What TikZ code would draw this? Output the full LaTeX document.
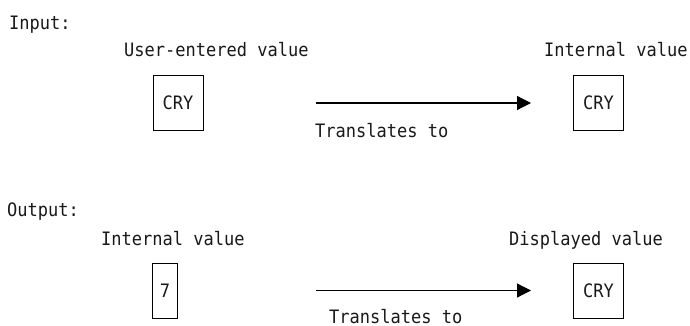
\documentclass[tikz,border=0pt]{standalone}
\usepackage{fontspec}
\setmonofont[FakeStretch=0.92]{DejaVu Sans Mono}
\usetikzlibrary{
  arrows.meta,
  positioning
}
\tikzset{
%
  % For all texts.
  txt/.style={
    font=\ttfamily\fontsize{18.5}{21}\selectfont,
    text=black!90,
    inner sep=0pt},
%
  % For the headings and captions.
  caption/.style={
    txt,
    anchor=base west},
%
  % For the boxes holding a value.
  valbox/.style={
    txt,
    draw,
    line width=1pt,
    inner xsep=7pt,
    minimum width=24pt,
    minimum height=55pt},
%
  % For the relation 'A translates to B'.
  translates/.style={
    line width=1.2pt,
    -{Triangle[length=14pt,
               width=14pt]}}
}
\begin{document}
\begin{tikzpicture}
  \useasboundingbox (0,0) rectangle (690pt,-326pt);

  % Input
  \node[caption] (inhead) at (9pt,-29.5pt) {Input:};
  \node[valbox, minimum width=50pt] (uin) at (178pt,-103pt) {CRY};
  \node[valbox, minimum width=50pt] (iin) at (598.5pt,-103pt) {CRY};
  \node[caption] (uinlab) at (124pt,-57pt) {User-entered value};
  \node[caption] (iinlab) at (544pt,-57pt) {Internal value};

  \draw[translates,
        shorten <=112pt,
        shorten >=42pt] (uin) -- (iin);
  \node[caption] (intr) at (315pt,-138pt) {Translates to};

  % Output
  \node[caption] (outhead) at (7pt,-216pt) {Output:};
  \node[valbox] (iout) at (165pt,-290.5pt) {7};
  \node[valbox, minimum width=50pt] (dout) at (598.5pt,-290.5pt) {CRY};
  \node[caption] (ioutlab) at (101pt,-245pt) {Internal value};
  \node[caption] (doutlab) at (509pt,-245pt) {Displayed value};

  \draw[translates,
        shorten <=138pt,
        shorten >=42pt] (iout) -- (dout);
  \node[caption] (outtr) at (329pt,-323pt) {Translates to};
\end{tikzpicture}
\end{document}
